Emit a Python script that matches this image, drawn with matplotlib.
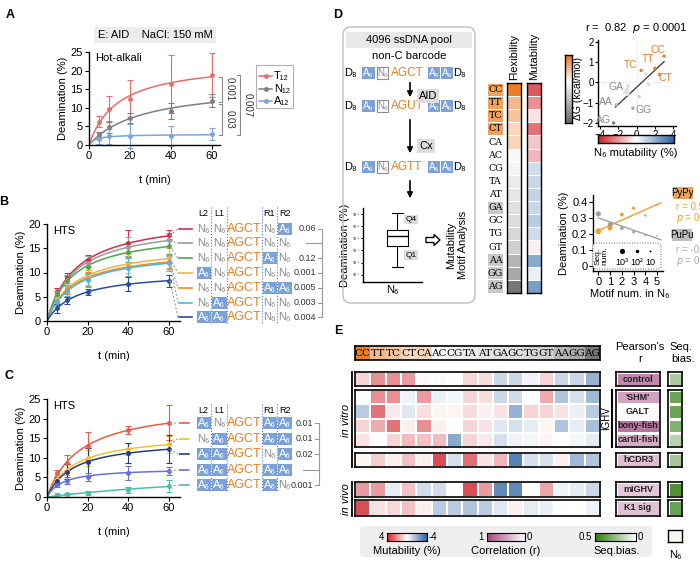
import numpy as np
import matplotlib.pyplot as plt
from matplotlib.patches import Rectangle, FancyBboxPatch, FancyArrow
from matplotlib.colors import LinearSegmentedColormap, TwoSlopeNorm, Normalize

plt.rcParams['font.family'] = ['Liberation Sans', 'DejaVu Sans']
plt.rcParams['font.size'] = 8
plt.rcParams['axes.linewidth'] = 1.0
plt.rcParams['xtick.major.size'] = 3
plt.rcParams['ytick.major.size'] = 3
plt.rcParams['xtick.major.pad'] = 1.5
plt.rcParams['ytick.major.pad'] = 1.5

# ---------------- data ----------------
time_min = [0, 5, 10, 20, 40, 60]

# A: hot-alkali assay, AID, NaCl 150 mM
a_names = ['T₁₂', 'N₁₂', 'A₁₂']
a_T12 = [0, 6.3, 9.8, 12.5, 16.5, 18.8]
a_T12_err = [0, 1.5, 3.4, 5.0, 7.8, 5.8]
a_N12 = [0, 2.6, 4.8, 7.3, 9.1, 11.9]
a_N12_err = [0, 0.8, 1.5, 1.3, 2.2, 1.8]
a_A12 = [0, 1.7, 2.4, 2.4, 2.4, 3.0]
a_A12_err = [0, 1.5, 2.0, 3.2, 2.7, 1.7]
a_pvals = ['0.001', '0.03', '0.007']

# B: HTS, flanks L2 L1 R1 R2 (A = A6 block, N = N6)
b_flanks = ['NNNA', 'NNNN', 'NNAN', 'ANNN', 'NNAA', 'NANN', 'AANN']
b_pvals = ['0.06', '', '0.12', '0.001', '0.005', '0.003', '0.004']
b_vals = [
    [0, 6.0, 8.8, 12.5, 16.0, 17.7],
    [0, 5.8, 8.5, 12.0, 15.3, 16.6],
    [0, 5.5, 8.2, 11.2, 14.2, 15.4],
    [0, 4.5, 6.8, 9.0, 11.8, 13.0],
    [0, 4.2, 6.5, 8.7, 11.2, 12.2],
    [0, 4.0, 6.2, 8.5, 11.0, 11.9],
    [0, 2.6, 4.3, 6.0, 7.6, 8.3],
]
b_errs = [
    [0, 0.8, 1.0, 1.2, 2.8, 1.0],
    [0, 0.7, 1.0, 1.5, 2.0, 1.5],
    [0, 0.7, 1.0, 1.5, 2.0, 1.5],
    [0, 0.8, 1.0, 1.5, 2.0, 2.0],
    [0, 0.8, 1.0, 1.5, 2.0, 1.5],
    [0, 0.8, 1.0, 1.5, 2.0, 1.5],
    [0, 1.0, 0.7, 0.6, 1.5, 1.2],
]

# C: HTS, A6-rich flanks
c_flanks = ['ANAA', 'NAAA', 'AANA', 'AAAA', 'AAAN']
c_pvals = ['0.01', '0.01', '0.02', '', '0.001']
c_vals = [
    [0, 6.2, 8.8, 13.0, 17.0, 19.0],
    [0, 4.5, 7.0, 9.9, 12.2, 13.4],
    [0, 4.2, 6.5, 8.9, 11.2, 12.2],
    [0, 3.0, 4.2, 5.2, 6.2, 6.7],
    [0, 0.6, 0.7, 1.1, 1.8, 2.8],
]
c_errs = [
    [0, 0.7, 1.8, 3.6, 1.0, 4.5],
    [0, 1.0, 1.5, 2.0, 1.5, 2.2],
    [0, 1.0, 2.0, 3.5, 2.5, 3.5],
    [0, 0.5, 0.8, 1.0, 1.8, 1.0],
    [0, 0.3, 0.3, 0.5, 0.7, 1.5],
]

# D: dinucleotides, flexibility (dG, kcal/mol) and N6 mutability (%)
dinuc = ['CC', 'TT', 'TC', 'CT', 'CA', 'AC', 'CG', 'TA', 'AT', 'GA', 'GC', 'TG', 'GT', 'AA', 'GG', 'AG']
dinuc_dG = [1.3, 0.7, 0.6, 0.4, 0.42, -0.1, -0.17, -0.3, -0.37, -0.45, -0.5, -0.6, -0.7, -1.1, -1.27, -2.0]
dinuc_mut = [3.0, 2.0, 0.5, 2.5, 1.0, 1.3, -0.9, -1.0, -1.1, -1.0, -1.3, -0.9, 0.3, -2.2, -0.4, -2.5]
box_stats = dict(whislo=-5.4, q1=-3.6, med=-2.8, q3=-2.3, whishi=-0.9)

motif_num = [0, 0, 1, 1, 2, 3, 4, 5]
pypy_deam = [0.215, 0.22, 0.245, 0.235, 0.32, 0.36, 0.315, 0.38]
pypy_seqn = [1000, 800, 500, 400, 150, 60, 20, 6]
pupu_num = [0, 1, 2, 3, 4, 5]
pupu_deam = [0.325, 0.26, 0.236, 0.212, 0.194, 0.19]
pupu_seqn = [1000, 300, 100, 40, 15, 6]

# E: per-dinucleotide mutability in other datasets
e_rows = ['control', "'SHM'", 'GALT', 'bony-fish', 'cartil-fish', 'hCDR3', 'mIGHV', 'K1 sig']
e_mut = [
    [0.8, 2.0, 2.0, 1.8, 0.1, -0.1, 0.0, 0.7, 0.6, -1.0, -1.0, -0.3, 0.8, -1.0, -1.0, -2.0],
    [0.0, 2.0, 2.0, -0.3, 1.8, -0.4, -0.2, 0.8, 0.6, -1.0, -0.9, 0.0, 1.5, -1.5, -0.8, -1.8],
    [-1.3, 2.5, 0.4, -0.6, 0.6, 0.2, 0.2, 0.6, 0.3, 0.5, -2.0, 0.8, 0.8, 0.5, -0.4, -1.3],
    [0.8, 1.5, 2.5, 0.3, 2.0, 0.3, 0.0, 0.8, 0.5, -0.6, -0.8, -0.5, 0.2, -1.5, -0.5, -1.6],
    [0.5, 0.0, 0.8, 1.2, 1.1, 1.2, -2.2, 0.8, 0.4, -0.8, -0.3, -0.2, 0.2, 0.0, -0.2, -0.5],
    [0.2, 0.9, 0.3, 1.1, 0.3, 3.2, -0.8, 2.6, 0.5, 1.3, -3.2, -0.8, -0.8, 0.3, -1.8, -1.5],
    [1.8, 1.8, -0.5, 1.1, -0.9, -0.9, 0.0, 3.2, 1.8, -3.0, -3.0, 0.0, 1.6, -0.3, -0.5, -1.0],
    [3.2, 0.5, 0.7, 1.1, 0.3, -1.3, -1.3, -1.5, -1.3, -0.6, 0.3, -0.5, -0.4, 0.0, 0.0, -0.3],
]
e_pearson = [0.65, 0.5, 0.03, 0.75, 0.45, 0.35, 0.3, 0.33]
e_seqbias = [0.2, 0.35, 0.35, 0.3, 0.17, 0.22, 0.42, 0.36]
n6_seqbias = 0.03

# ---------------- helpers ----------------
W, H = 700, 569
fig = plt.figure(figsize=(7, 5.69), dpi=100)

ORANGE = '#e57f22'
A_BLUE = '#7aa2d6'
GRAY_T = '#8c8c8c'

flex_cmap = LinearSegmentedColormap.from_list('flex', ['#6a6a6a', '#ffffff', '#e8751a'])
flex_norm = TwoSlopeNorm(vmin=-2.2, vcenter=0, vmax=1.4)
mut_cmap = LinearSegmentedColormap.from_list('mut', ['#2c63a3', '#ffffff', '#d0222a'])
mut_norm = Normalize(-4, 4)
cor_cmap = LinearSegmentedColormap.from_list('cor', ['#ffffff', '#a3457f'])
bias_cmap = LinearSegmentedColormap.from_list('bias', ['#ffffff', '#2f7d12'])


def ax_px(x0, y0, x1, y1):
    return fig.add_axes([x0 / W, 1 - y1 / H, (x1 - x0) / W, (y1 - y0) / H])


def hyper_fit(t, y):
    t = np.asarray(t, float)
    y = np.asarray(y, float)
    best = None
    for km in np.linspace(0.3, 400, 2000):
        f = t / (km + t)
        a = (f @ y) / (f @ f)
        sse = ((a * f - y) ** 2).sum()
        if best is None or sse < best[0]:
            best = (sse, a, km)
    tt = np.linspace(0, t.max(), 200)
    return tt, best[1] * tt / (best[2] + tt)


def style_ax(ax, size=8):
    ax.spines['top'].set_visible(False)
    ax.spines['right'].set_visible(False)
    ax.tick_params(labelsize=size)


def time_curves(ax, vals, errs, colors):
    ends = []
    for y, e, c in zip(vals, errs, colors):
        tt, yy = hyper_fit(time_min, y)
        ax.plot(tt, yy, color=c, lw=1.1)
        ax.errorbar(time_min[1:], y[1:], yerr=e[1:], fmt='o', ms=2.5, color=c,
                    elinewidth=0.8, capsize=2, capthick=0.8, clip_on=False)
        ends.append(yy[-1])
    return ends


def blank(ax):
    ax.set_xticks([])
    ax.set_yticks([])


# ---------------- A ----------------
axA = ax_px(89, 52, 220, 145)
a_colors = ['#e36f6c', '#7f7f7f', '#7aa6d8']
a_ends = time_curves(axA, [a_T12, a_N12, a_A12], [a_T12_err, a_N12_err, a_A12_err], a_colors)
axA.set_xlim(0, 64)
axA.set_ylim(0, 25)
axA.set_xticks([0, 20, 40, 60])
axA.set_yticks([0, 5, 10, 15, 20, 25])
style_ax(axA)
axA.set_ylabel('Deamination (%)', fontsize=8, labelpad=2)
axA.set_xlabel('t (min)', fontsize=8, labelpad=10)
axA.text(3, 23.3, 'Hot-alkali', fontsize=8, va='center')


def bracket(ax, x, y0, y1, txt, tx, lw=0.8):
    ax.plot([x - 1.5, x, x, x - 1.5], [y0, y0, y1, y1], color='#8a8a8a', lw=lw, clip_on=False)
    ax.text(tx, (y0 + y1) / 2, txt, rotation=270, fontsize=7, ha='center', va='center', color='#333333')


bracket(axA, 65, a_ends[0], a_ends[1] + 0.3, a_pvals[0], 68.5)
bracket(axA, 65, a_ends[1] - 0.3, a_ends[2], a_pvals[1], 68.5)
bracket(axA, 74, a_ends[0] + 0.5, a_ends[2], a_pvals[2], 77.5)

# ---------------- B ----------------
axB = ax_px(47, 224, 180, 321)
b_colors = ['#d6294a', '#9a9a9a', '#4fa64a', '#f3b24e', '#ef8a1c', '#4db6de', '#2b4c9e']
b_ends = time_curves(axB, b_vals, b_errs, b_colors)
axB.set_xlim(0, 65.5)
axB.set_ylim(0, 20)
axB.set_xticks([0, 20, 40, 60])
axB.set_yticks([0, 5, 10, 15, 20])
style_ax(axB)
axB.set_ylabel('Deamination (%)', fontsize=8, labelpad=2)
axB.set_xlabel('t (min)', fontsize=8, labelpad=10)
axB.text(3, 18.5, 'HTS', fontsize=8, va='center')

# ---------------- C ----------------
axC = ax_px(47, 399, 180, 497)
c_colors = ['#ea5b45', '#f2c22c', '#243c7c', '#6a70d8', '#48bfae']
c_ends = time_curves(axC, c_vals, c_errs, c_colors)
axC.set_xlim(0, 65.5)
axC.set_ylim(0, 25)
axC.set_xticks([0, 20, 40, 60])
axC.set_yticks([0, 5, 10, 15, 20, 25])
style_ax(axC)
axC.set_ylabel('Deamination (%)', fontsize=8, labelpad=2)
axC.set_xlabel('t (min)', fontsize=8, labelpad=10)
axC.text(3, 23.3, 'HTS', fontsize=8, va='center')

# ---------------- D: heat columns ----------------
n = len(dinuc)
axF = ax_px(507, 83, 521, 293)
axF.pcolormesh(np.array(dinuc_dG)[:, None], cmap=flex_cmap, norm=flex_norm, edgecolors='white', linewidth=0.6)
axF.set_ylim(n, 0)
blank(axF)
axM = ax_px(527, 83, 541, 293)
axM.pcolormesh(np.array(dinuc_mut)[:, None], cmap=mut_cmap, norm=mut_norm, edgecolors='white', linewidth=0.6)
axM.set_ylim(n, 0)
blank(axM)

# box plot
axBox = ax_px(363, 208, 422, 282)
axBox.bxp([dict(box_stats, fliers=[])], positions=[0.58], widths=0.36, showfliers=False,
          boxprops=dict(lw=0.8), whiskerprops=dict(lw=0.8), capprops=dict(lw=0.8),
          medianprops=dict(color='k', lw=1.0))
style_ax(axBox, size=2.5)
axBox.set_xlim(0, 1)
axBox.set_ylim(-6.6, -0.5)
axBox.set_xticks([])
axBox.set_yticks([-6, -5, -4, -3, -2, -1])
axBox.set_yticklabels(['10⁻⁶', '10⁻⁵', '10⁻⁴', '10⁻³', '10⁻²', '10⁻¹'], fontsize=2.5)
axBox.tick_params(length=1.5, pad=0.5)
axBox.set_ylabel('Deamination (%)', fontsize=8, labelpad=2)
axBox.set_xlabel('N₆', fontsize=8, labelpad=2)
axBox.text(0.72, box_stats['q3'] + 0.7, 'Q4', fontsize=6, bbox=dict(fc='#dddddd', ec='none', pad=0.8))
axBox.text(0.72, box_stats['q1'] - 0.9, 'Q1', fontsize=6, bbox=dict(fc='#dddddd', ec='none', pad=0.8))

# scatter dG vs mutability
axS1 = ax_px(598, 40, 676, 126)
style_ax(axS1, size=7)
axS1.tick_params(length=2, pad=1)
axS1.axhline(0, color='#cfcfcf', lw=0.6, ls=':')
axS1.axvline(0, color='#cfcfcf', lw=0.6, ls=':')
pt_colors = [ORANGE if i < 4 else flex_cmap(flex_norm(min(v, -0.5))) for i, v in enumerate(dinuc_dG)]
axS1.scatter(dinuc_mut, dinuc_dG, s=6, c=pt_colors, zorder=3, lw=0)
k, b0 = np.polyfit(dinuc_mut, dinuc_dG, 1)
xs = np.array([min(dinuc_mut) + 0.2, max(dinuc_mut)])
axS1.plot(xs, k * xs + b0, color='#333333', lw=0.9)
axS1.set_xlim(-4.2, 4.3)
axS1.set_ylim(-2.15, 2.1)
axS1.set_xticks([-4, -2, 0, 2, 4])
axS1.set_yticks([-2, -1, 0, 1, 2])
lab_pos = {'CC': (2.3, 1.6), 'TT': (1.3, 1.15), 'TC': (-0.6, 0.86), 'CT': (3.1, 0.2),
           'GA': (-2.2, -0.2), 'AA': (-3.3, -0.95), 'AG': (-3.6, -1.85), 'GG': (0.8, -1.35)}
for d, (lx, ly) in lab_pos.items():
    col = ORANGE if dinuc.index(d) < 4 else '#8a8a8a'
    axS1.text(lx, ly, d, color=col, fontsize=7.5, ha='center', va='center')

axCb1 = ax_px(565, 55, 572, 123)
axCb1.imshow(np.linspace(1.4, -2.2, 100)[:, None], cmap=flex_cmap, norm=flex_norm, aspect='auto')
blank(axCb1)
axCb2 = ax_px(598, 135, 674, 143)
axCb2.imshow(np.linspace(4, -4, 100)[None, :], cmap=mut_cmap, norm=mut_norm, aspect='auto')
blank(axCb2)

# scatter deamination vs motif number
axS2 = ax_px(593, 195, 663, 271)
style_ax(axS2)
axS2.tick_params(pad=1)


def seq_size(nums):
    return [1.5 * np.log10(v) ** 2 + 0.5 for v in nums]


axS2.scatter(motif_num, pypy_deam, s=seq_size(pypy_seqn), color='#f0a030', zorder=3, lw=0)
axS2.scatter(pupu_num, pupu_deam, s=seq_size(pupu_seqn), color='#9c9c9c', zorder=3, lw=0)
for xv, yv, c in [(motif_num, pypy_deam, '#f0a030'), (pupu_num, pupu_deam, '#a0a0a0')]:
    k, b0 = np.polyfit(xv, yv, 1)
    xs = np.array([0, 5.3])
    axS2.plot(xs, k * xs + b0, color=c, lw=1.0, clip_on=False)
axS2.set_xlim(-0.45, 5.5)
axS2.set_ylim(-0.03, 0.442)
axS2.set_xticks([0, 1, 2, 3, 4, 5])
axS2.set_yticks([0, 0.1, 0.2, 0.3, 0.4])
axS2.set_yticklabels(['0', '0.1', '0.2', '0.3', '0.4'])
axS2.set_ylabel('Deamination (%)', fontsize=8, labelpad=2)

# ---------------- E ----------------
axSeq = ax_px(355, 346, 600, 360)
axSeq.pcolormesh(np.array(dinuc_dG)[None, :], cmap=flex_cmap, norm=flex_norm)
for i, d in enumerate(dinuc):
    axSeq.text(i + 0.5, 0.5, d, ha='center', va='center', fontsize=7.5, family='DejaVu Serif')
axSeq.set_ylim(1, 0)
blank(axSeq)
for s in axSeq.spines.values():
    s.set_linewidth(1.2)

e_groups = [(372, 386, [0]), (390, 447, [1, 2, 3, 4]), (453, 467, [5]), (482, 497, [6]), (500, 516, [7])]
for y0, y1, idx in e_groups:
    axh = ax_px(355, y0, 600, y1)
    axh.pcolormesh(np.array([e_mut[i] for i in idx]), cmap=mut_cmap, norm=mut_norm,
                   edgecolors='white', linewidth=1.2)
    axh.set_ylim(len(idx), 0)
    blank(axh)
    for s in axh.spines.values():
        s.set_linewidth(1.2)
    axp = ax_px(616, y0, 660, y1)
    axp.pcolormesh(np.array([[e_pearson[i]] for i in idx]), cmap=cor_cmap, vmin=0, vmax=1,
                   edgecolors='white', linewidth=1.0)
    for j, i in enumerate(idx):
        axp.text(0.5, j + 0.5, e_rows[i], ha='center', va='center', fontsize=6.5,
                 fontweight='bold', color='#222222')
    axp.set_ylim(len(idx), 0)
    blank(axp)
    for s in axp.spines.values():
        s.set_linewidth(1.2)
    axq = ax_px(668, y0, 682, y1)
    axq.pcolormesh(np.array([[e_seqbias[i]] for i in idx]), cmap=bias_cmap, vmin=0, vmax=0.5,
                   edgecolors='white', linewidth=1.0)
    axq.set_ylim(len(idx), 0)
    blank(axq)
    for s in axq.spines.values():
        s.set_linewidth(1.2)

axN6 = ax_px(668, 530, 682, 542)
axN6.pcolormesh(np.array([[n6_seqbias]]), cmap=bias_cmap, vmin=0, vmax=0.5)
blank(axN6)

# ---------------- overlay for annotations ----------------
ov = fig.add_axes([0, 0, 1, 1])
ov.set_xlim(0, W)
ov.set_ylim(H, 0)
ov.axis('off')
ov.patch.set_alpha(0)

ov.add_patch(FancyBboxPatch((360, 526), 292, 31, boxstyle='round,pad=0,rounding_size=4',
                            fc='#eeeeee', ec='none', zorder=-5))
for (x0, x1, cm, norm, vals) in [(387, 427, mut_cmap, mut_norm, np.linspace(4, -4, 100)),
                                  (487, 525, cor_cmap, Normalize(0, 1), np.linspace(1, 0, 100)),
                                  (595, 636, bias_cmap, Normalize(0, 0.5), np.linspace(0.5, 0, 100))]:
    axl = ax_px(x0, 533, x1, 541)
    axl.imshow(vals[None, :], cmap=cm, norm=norm, aspect='auto')
    blank(axl)
    for s in axl.spines.values():
        s.set_linewidth(0.8)

for lbl, x, y in [('A', 10, 15), ('B', 4, 202), ('C', 9, 376), ('D', 338, 15), ('E', 338, 331)]:
    ov.text(x, y, lbl, fontsize=9, fontweight='bold', ha='center', va='center')

# A header and legend
ov.text(155, 35, 'E: AID    NaCl: 150 mM', fontsize=8, ha='center', va='center',
        bbox=dict(fc='#ececec', ec='none', pad=2.5))
ov.add_patch(Rectangle((256, 65), 37, 43, fc='white', ec='#b0b0b0', lw=0.8))
for i, (nm, c) in enumerate(zip(a_names, a_colors)):
    yy = 76 + i * 12.5
    ov.plot([259, 272], [yy, yy], color=c, lw=1.1)
    ov.plot([265.5], [yy], 'o', color=c, ms=2.5)
    ov.text(274, yy, nm, fontsize=8, va='center')


def to_px(ax, x, y):
    return ov.transData.inverted().transform(ax.transData.transform((x, y)))


COLS = [(196, 211), (211, 227), (262, 277), (277, 292)]


def flank_table(ax, ends, flanks, colors, pvals, y0, dy, y_head, ybot, brx, dash):
    for xl in [211, 227, 262, 277]:
        ov.plot([xl, xl], [y_head - 6, ybot], color='#4a78c8', lw=0.8, ls=':')
    for xh, t in zip([203.5, 219, 269.5, 284.5], ['L2', 'L1', 'R1', 'R2']):
        ov.text(xh, y_head, t, fontsize=6.5, ha='center', va='center')
    rows_y = [y0 + i * dy for i in range(len(flanks))]
    for yr, fl, c, e, pv in zip(rows_y, flanks, colors, ends, pvals):
        ex, ey = to_px(ax, 60, e)
        ov.plot([ex + 1, 178], [ey, yr], color='#a0a0a0', lw=0.8, ls=(0, (2, 1.5)))
        ov.plot([179, 192], [yr, yr], color=c, lw=1.2, ls=dash)
        for (x0, x1), f in zip(COLS, fl):
            if f == 'A':
                ov.add_patch(Rectangle((x0 + 0.5, yr - 6), x1 - x0 - 1, 12, fc=A_BLUE, ec='none'))
                ov.text((x0 + x1) / 2, yr, 'A₆', color='white', fontsize=8, ha='center', va='center')
            else:
                ov.text((x0 + x1) / 2, yr, 'N₆', color=GRAY_T, fontsize=8, ha='center', va='center')
        ov.text(244.5, yr, 'AGCT', color=ORANGE, fontsize=9, ha='center', va='center')
        if pv:
            ov.text(brx - 6, yr, pv, fontsize=6.5, ha='right', va='center', color='#333333')
            ov.plot([brx - 4, brx], [yr, yr], color='#999999', lw=0.8)
        else:
            ov.plot([brx - 16, brx], [yr, yr], color='#999999', lw=0.8)
    ov.plot([brx, brx], [rows_y[0], rows_y[-1]], color='#999999', lw=0.8)


flank_table(axB, b_ends, b_flanks, b_colors, b_pvals, 228.5, 14.8, 213, 323, 322, '-')
flank_table(axC, c_ends, c_flanks, c_colors, c_pvals, 423, 15.5, 410, 492, 319, '-.')

# D schematic box
ov.add_patch(FancyBboxPatch((343, 27), 132, 276, boxstyle='round,pad=0,rounding_size=8',
                            fc='none', ec='#bdbdbd', lw=1.0))
ov.add_patch(Rectangle((346, 32), 126, 16, fc='#e8e8e8', ec='none'))
ov.text(409, 40, '4096 ssDNA pool', fontsize=8, ha='center', va='center')
ov.text(409, 56, 'non-C barcode', fontsize=8, ha='center', va='center')


def schematic_seq(y, core):
    ov.text(350, y, 'D₈', fontsize=8, ha='center', va='center')
    for x0, x1 in [(362, 375), (428, 440), (441, 453)]:
        ov.add_patch(Rectangle((x0, y - 6), x1 - x0, 12, fc=A_BLUE, ec='none'))
        ov.text((x0 + x1) / 2, y, 'A₆', color='white', fontsize=7, ha='center', va='center')
    ov.add_patch(Rectangle((377, y - 6), 11, 12, fc='white', ec='#8c8c8c', lw=0.8))
    ov.text(382.5, y, 'N₆', color=GRAY_T, fontsize=7, ha='center', va='center')
    ov.text(407, y, core, color=ORANGE, fontsize=8.5, ha='center', va='center')
    ov.text(459, y, 'D₈', fontsize=8, ha='center', va='center')


schematic_seq(73, 'AGCT')
schematic_seq(106, 'AGUT')
schematic_seq(167, 'AGTT')
for ya, yb in [(80, 100), (117, 156), (178, 201)]:
    ov.annotate('', xy=(410, yb), xytext=(410, ya),
                arrowprops=dict(arrowstyle='-|>', lw=1.2, color='k', mutation_scale=8))
ov.text(428, 96, 'AID', fontsize=8, ha='center', va='center', bbox=dict(fc='#dddddd', ec='none', pad=1.5))
ov.text(426, 146, 'Cx', fontsize=8, ha='center', va='center', bbox=dict(fc='#dddddd', ec='none', pad=1.5))
ov.add_patch(FancyArrow(426, 240, 8, 0, width=5, head_width=11, head_length=6,
                        fc='white', ec='k', lw=1.0, length_includes_head=False))
ov.text(451, 245, 'Mutability', rotation=90, fontsize=8, ha='center', va='center')
ov.text(463, 245, 'Motif Analysis', rotation=90, fontsize=8, ha='center', va='center')

# D heat labels
rh = (293 - 83) / n
for i, d in enumerate(dinuc):
    yc = 83 + (i + 0.5) * rh
    if i < 4:
        ov.add_patch(Rectangle((488, yc - rh / 2 + 0.5), 15, rh - 1, fc='#f0a259', ec='none'))
    elif d in ('GA', 'AA', 'GG', 'AG'):
        ov.add_patch(Rectangle((488, yc - rh / 2 + 0.5), 15, rh - 1, fc='#c9c9c9', ec='none'))
    ov.text(495.5, yc, d, fontsize=6.8, family='DejaVu Serif', ha='center', va='center')
ov.text(514, 80, 'Flexibility', rotation=90, fontsize=8, ha='center', va='bottom')
ov.text(534, 80, 'Mutability', rotation=90, fontsize=8, ha='center', va='bottom')

# D scatter annotations
ov.text(636, 28, r'r =  0.82  $\it{p}$ = 0.0001', fontsize=8, ha='center', va='center')
ov.text(578, 88, 'ΔG (kcal/mol)', rotation=90, fontsize=7.5, ha='center', va='center')
ov.text(636, 153, 'N₆ mutability (%)', fontsize=8, ha='center', va='center')
ov.text(630, 294, 'Motif num. in N₆', fontsize=8, ha='center', va='center')
ov.add_patch(Rectangle((673, 187), 20, 12, fc='#f0a259', ec='none'))
ov.text(683, 193, 'PyPy', fontsize=7, ha='center', va='center')
ov.text(676, 207, 'r = 0.91', fontsize=7, color='#f0a030', va='center')
ov.text(676, 218, r'$\it{p}$ = 0.01', fontsize=7, color='#f0a030', va='center')
ov.add_patch(Rectangle((672, 229), 20, 12, fc='#bdbdbd', ec='none'))
ov.text(682, 235, 'PuPu', fontsize=7, ha='center', va='center')
ov.text(676, 250, 'r = -0.92', fontsize=7, color='#aaaaaa', va='center')
ov.text(676, 261, r'$\it{p}$ = 0.01', fontsize=7, color='#aaaaaa', va='center')
ov.add_patch(FancyBboxPatch((593, 243), 68, 26, boxstyle='round,pad=0,rounding_size=3',
                            fc='white', ec='#555555', lw=0.7, ls=':'))
ov.text(602, 256, 'Seq.\nnum.', rotation=90, fontsize=6, ha='center', va='center', linespacing=0.95)
for xl, v, t in [(622, 1000, '10³'), (637, 100, '10²'), (650, 10, '10')]:
    ov.scatter([xl], [251], s=seq_size([v]), color='k', lw=0)
    ov.text(xl, 262, t, fontsize=6.5, ha='center', va='center')

# E annotations
ov.text(346, 420, 'in vitro', rotation=90, fontsize=8, style='italic', ha='center', va='center')
ov.plot([352, 352], [372, 467], color='k', lw=1.3)
ov.text(346, 499, 'in vivo', rotation=90, fontsize=8, style='italic', ha='center', va='center')
ov.plot([352, 352], [482, 516], color='k', lw=1.3)
ov.text(606, 418, 'IGHV', rotation=90, fontsize=7, ha='center', va='center')
ov.plot([612, 612], [390, 447], color='k', lw=1.5)
ov.text(640, 347, "Pearson's", fontsize=8, ha='center', va='center')
ov.text(640, 359, 'r', fontsize=8, ha='center', va='center')
ov.text(681, 347, 'Seq.', fontsize=8, ha='center', va='center')
ov.text(683, 359, 'bias.', fontsize=8, ha='center', va='center')
ov.text(384, 537, '4', fontsize=7, ha='right', va='center')
ov.text(429, 537, '-4', fontsize=7, ha='left', va='center')
ov.text(407, 551, 'Mutability (%)', fontsize=8, ha='center', va='center')
ov.text(484, 537, '1', fontsize=7, ha='right', va='center')
ov.text(527, 537, '0', fontsize=7, ha='left', va='center')
ov.text(506, 551, 'Correlation (r)', fontsize=8, ha='center', va='center')
ov.text(592, 537, '0.5', fontsize=7, ha='right', va='center')
ov.text(638, 537, '0', fontsize=7, ha='left', va='center')
ov.text(617, 551, 'Seq.bias.', fontsize=8, ha='center', va='center')
ov.text(675, 555, 'N₆', fontsize=8, ha='center', va='center')

fig.savefig('out.png', dpi=100)
